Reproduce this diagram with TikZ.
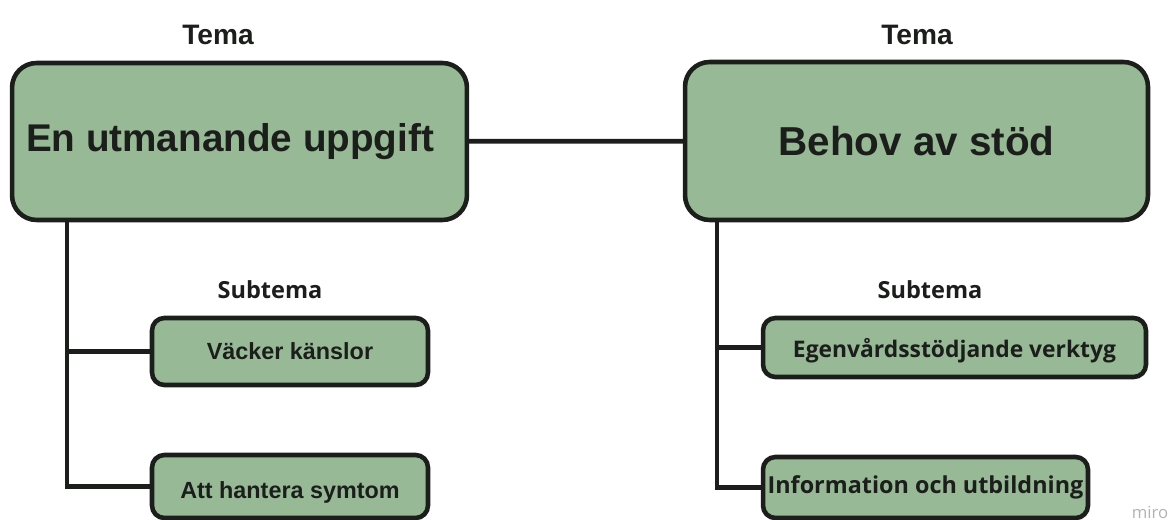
\documentclass[tikz,border=0pt]{standalone}
\usepackage{fontspec}
\setmainfont{Liberation Sans}
\newfontfamily\opensans{Open Sans}
\definecolor{sage}{RGB}{151,185,150}
\definecolor{ink}{RGB}{28,30,28}

\begin{document}
\begin{tikzpicture}[x=0.02cm, y=-0.02cm,
  every node/.style = {align=center, text=ink},
  temabox/.style = {shape=rectangle, rounded corners=14pt, draw=ink,
    line width=2.6pt, fill=sage},
  subbox/.style = {shape=rectangle, rounded corners=7pt, draw=ink,
    line width=2.6pt, fill=sage, inner sep=0pt},
  heading/.style = {font=\fontsize{16}{19}\selectfont\bfseries},
  subheading/.style = {font=\opensans\fontsize{13.4}{16}\selectfont\bfseries},
  link/.style = {draw=ink, line width=2.7pt}]
  \useasboundingbox (0,0) rectangle (1173,520);

  % teman
  \node[temabox, minimum width=9.1cm, minimum height=3.14cm] (utmaning) at (239.5,141.5) {};
  \node[font=\fontsize{22}{26}\selectfont\bfseries] (utmaningtxt) at (230,141.5) {En utmanande uppgift};
  \node[temabox, minimum width=9.26cm, minimum height=3.16cm, font=\fontsize{23}{27}\selectfont\bfseries] (stod) at (916.5,141) {Behov av stöd};
  \node[heading] (temaL) at (218,35) {Tema};
  \node[heading] (temaR) at (917,35) {Tema};

  % subteman
  \node[subheading] (subL) at (270,290) {Subtema};
  \node[subheading] (subR) at (930,290) {Subtema};
  \node[subbox, minimum width=5.52cm, minimum height=1.34cm, font=\fontsize{13.3}{15}\selectfont\bfseries] (kanslor) at (290,351.5) {Väcker känslor};
  \node[subbox, minimum width=5.52cm, minimum height=1.26cm, font=\fontsize{13.3}{15}\selectfont\bfseries] (symtom) at (290,486.5) {\raisebox{-3.5pt}[\height][\depth]{Att hantera symtom}};
  \node[subbox, minimum width=7.66cm, minimum height=1.18cm, font=\opensans\fontsize{13}{15}\selectfont\bfseries] (verktyg) at (954.5,347.5) {\raisebox{-2pt}[\height][\depth]{Egenvårdsstödjande verktyg}};
  \node[subbox, minimum width=6.5cm, minimum height=1.22cm, font=\opensans\fontsize{13.3}{15}\selectfont\bfseries] (utbildning) at (925.5,487.5) {Information och utbildning};

  % kopplingar
  \coordinate (stemL) at (67,0);
  \coordinate (stemR) at (717,0);
  \draw[link] (utmaning) -- (stod);
  \draw[link] (utmaning.south -| stemL) |- (symtom.west);
  \draw[link] (stemL |- kanslor.west) -- (kanslor.west);
  \draw[link] (stod.south -| stemR) |- (utbildning.west);
  \draw[link] (stemR |- verktyg.west) -- (verktyg.west);

  \node[text=black!30, font=\opensans\fontsize{9.5}{11}\selectfont] (miro) at (1150,512) {miro};
\end{tikzpicture}
\end{document}
